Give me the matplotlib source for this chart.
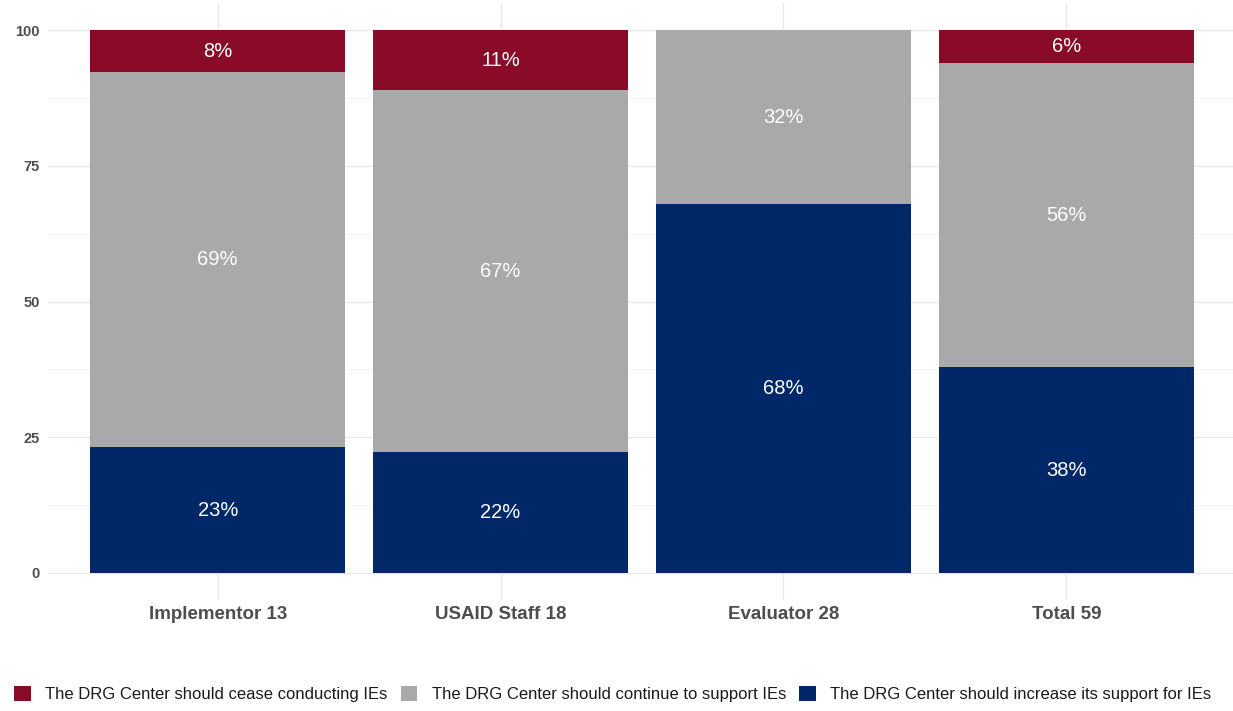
import matplotlib
matplotlib.use("Agg")
import matplotlib.pyplot as plt
from matplotlib.patches import Patch
import numpy as np

plt.rcParams["font.family"] = ["Liberation Sans", "DejaVu Sans"]

categories = ["Implementor 13", "USAID Staff 18", "Evaluator 28", "Total 59"]
increase = [23.1, 22.2, 67.9, 37.9]
cont = [69.2, 66.7, 32.1, 56.0]
cease = [7.7, 11.1, 0.0, 6.1]
series_names = ["The DRG Center should cease conducting IEs",
                "The DRG Center should continue to support IEs",
                "The DRG Center should increase its support for IEs"]
yticks = [0, 25, 50, 75, 100]

c_red = "#8A0B28"
c_gray = "#A9A9A9"
c_navy = "#002868"

fig = plt.figure(figsize=(12.33, 7.11), dpi=100)
ax = fig.add_axes([48/1233, 1 - 600/711, (1236-48)/1233, (600-3)/711])

x = np.arange(1, len(categories) + 1)
w = 0.9
stacks = [(increase, c_navy), (cont, c_gray), (cease, c_red)]
bottom = np.zeros(len(categories))
for vals, col in stacks:
    vals = np.array(vals)
    ax.bar(x, vals, w, bottom=bottom, color=col, zorder=3, linewidth=0)
    for xi, b, v in zip(x, bottom, vals):
        if v > 0:
            ax.text(xi, b + v / 2, f"{round(v)}%", ha="center", va="center",
                    color="white", fontsize=14.5, zorder=4)
    bottom = bottom + vals

ax.set_xlim(0.4, len(categories) + 0.6)
ax.set_ylim(-5, 105)
ax.set_xticks(x)
ax.set_xticklabels(categories, fontsize=13.5, fontweight="bold", color="#4d4d4d")
ax.set_yticks(yticks)
ax.set_yticklabels([str(t) for t in yticks], fontsize=10.5, fontweight="bold", color="#4d4d4d")
ax.set_yticks([12.5, 37.5, 62.5, 87.5], minor=True)
ax.set_yticklabels([], minor=True)
ax.tick_params(axis="both", which="both", length=0)
ax.tick_params(axis="y", pad=6)
ax.tick_params(axis="x", pad=4)
ax.grid(True, which="major", color="#e8e8e8", linewidth=1.0, zorder=0)
ax.grid(True, which="minor", axis="y", color="#f3f3f3", linewidth=0.6, zorder=0)
for s in ax.spines.values():
    s.set_visible(False)

handles = [Patch(facecolor=c, edgecolor="none") for c in [c_red, c_gray, c_navy]]
fig.legend(handles, series_names, loc="center", bbox_to_anchor=(0.497, 1 - 694/711),
           ncol=3, frameon=False, fontsize=12, handlelength=1.0, handleheight=1.0,
           handletextpad=0.85, columnspacing=0.8, labelcolor="#1a1a1a")

fig.savefig("out.png", dpi=100, facecolor="white")
